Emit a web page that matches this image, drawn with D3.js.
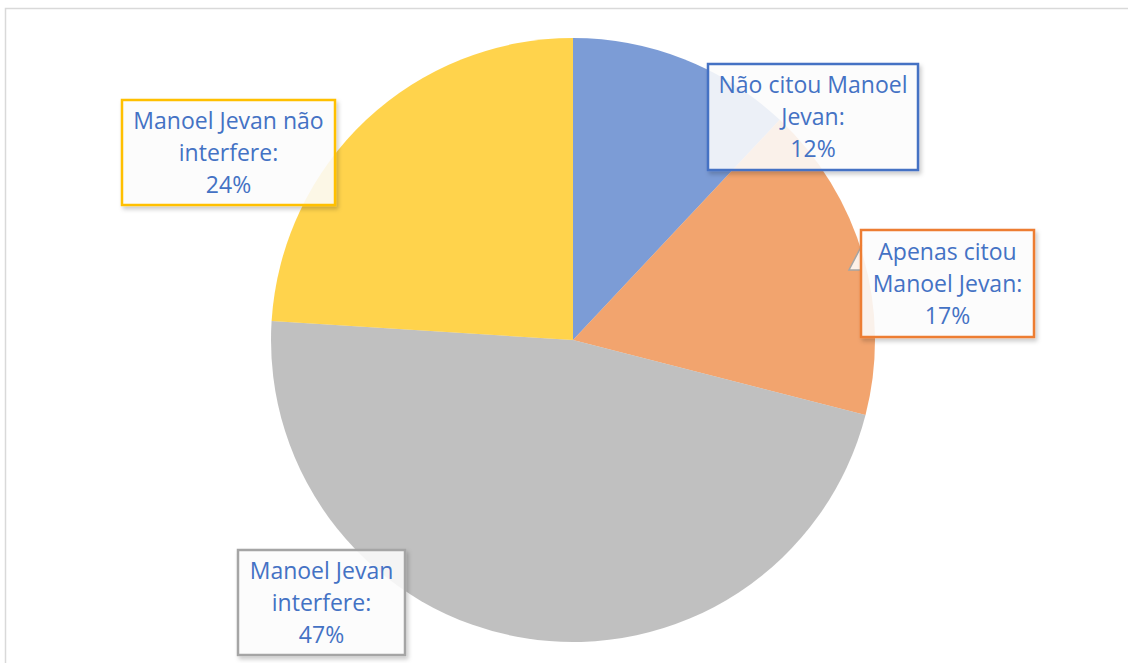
<!DOCTYPE html>
<html>
<head>
<meta charset="utf-8">
<script src="https://cdn.jsdelivr.net/npm/d3@7"></script>
<style>
  html, body { margin: 0; padding: 0; background: #ffffff; }
  svg { display: block; }
</style>
</head>
<body>
<div id="chart"></div>
<script>
// Shares of responses, clockwise from 12 o'clock
const categories = [
  "Não citou Manoel Jevan",
  "Apenas citou Manoel Jevan",
  "Manoel Jevan interfere",
  "Manoel Jevan não interfere"
];
const values = [12, 17, 47, 24];
const labelLines = [
  ["Não citou Manoel", "Jevan:", "12%"],
  ["Apenas citou", "Manoel Jevan:", "17%"],
  ["Manoel Jevan", "interfere:", "47%"],
  ["Manoel Jevan não", "interfere:", "24%"]
];
const colors = ["#4472c4", "#ed7d31", "#a5a5a5", "#ffc000"];

// Callout boxes: [left, top, width, height]
const boxes = [
  [708, 64, 210, 106],
  [861, 230, 173, 107],
  [238, 550, 167, 105],
  [122, 100, 213, 105]
];

const W = 1128, H = 663;
const cx = 573, cy = 340, R = 302;

const svg = d3.select("#chart").append("svg")
  .attr("width", W).attr("height", H);

const defs = svg.append("defs");
const f = defs.append("filter").attr("id", "shadow")
  .attr("x", "-10%").attr("y", "-10%").attr("width", "130%").attr("height", "130%");
f.append("feDropShadow").attr("dx", 2).attr("dy", 3).attr("stdDeviation", 2)
  .attr("flood-color", "#000").attr("flood-opacity", 0.22);

// chart area frame
svg.append("rect")
  .attr("x", 5.5).attr("y", 8.5).attr("width", W + 10).attr("height", H + 10)
  .attr("fill", "#ffffff").attr("stroke", "#d9d9d9").attr("stroke-width", 1.5);

const pie = d3.pie().sort(null).value(d => d)(values);
const arc = d3.arc().innerRadius(0).outerRadius(R);

const g = svg.append("g").attr("transform", `translate(${cx},${cy})`);
g.selectAll("path.slice").data(pie).join("path")
  .attr("class", "slice")
  .attr("d", arc)
  .attr("fill", (d, i) => colors[i])
  .attr("fill-opacity", 0.7);

// pointer of the "Apenas citou" callout
svg.append("path")
  .attr("d", "M862,245 L849,270 L862,270")
  .attr("fill", "rgba(255,255,255,0.85)")
  .attr("stroke", "#a5a5a5").attr("stroke-width", 1.5);

const fontSize = 23;
const lbl = svg.selectAll("g.label").data(boxes).join("g").attr("class", "label");
lbl.append("rect")
  .attr("x", d => d[0]).attr("y", d => d[1])
  .attr("width", d => d[2]).attr("height", d => d[3])
  .attr("fill", "#ffffff").attr("fill-opacity", 0.85)
  .attr("stroke", (d, i) => colors[i]).attr("stroke-width", 2.5)
  .attr("filter", "url(#shadow)");

lbl.each(function(b, i) {
  const t = d3.select(this).append("text")
    .attr("text-anchor", "middle")
    .attr("font-family", "'Open Sans', sans-serif")
    .attr("font-size", fontSize)
    .attr("fill", "#4472c4");
  const lines = labelLines[i];
  const lh = 32;
  const mid = b[1] + b[3] / 2;
  lines.forEach((s, k) => {
    t.append("tspan")
      .attr("x", b[0] + b[2] / 2)
      .attr("y", mid + (k - 1) * lh + 8)
      .text(s);
  });
});
</script>
</body>
</html>
